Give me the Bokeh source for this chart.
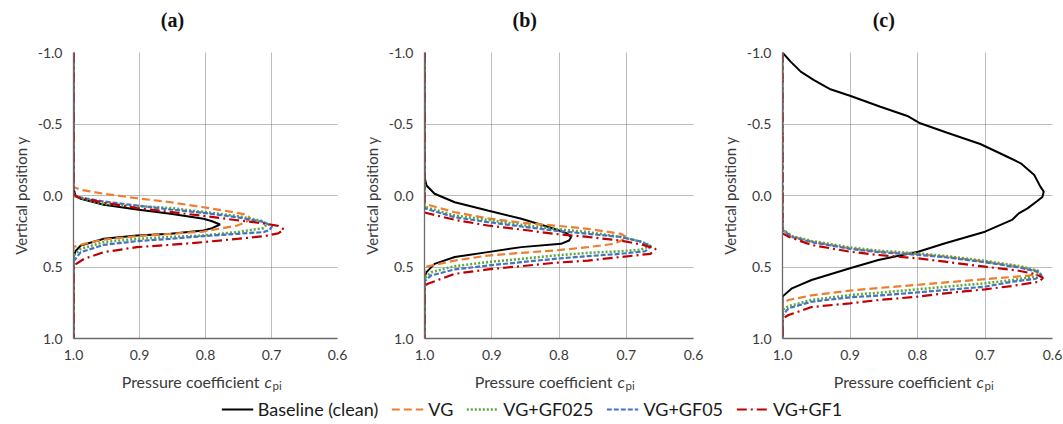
from bokeh.plotting import figure
from bokeh.layouts import row, column
from bokeh.models import Range1d, FixedTicker, PrintfTickFormatter, Label, Legend, LegendItem
from bokeh.embed import file_html
from bokeh.resources import INLINE

# ---------------- data (c_pi, y) ----------------
SERIES = ["Baseline (clean)", "VG", "VG+GF025", "VG+GF05", "VG+GF1"]
X_TICKS = [1.0, 0.9, 0.8, 0.7, 0.6]
Y_TICKS = [-1.0, -0.5, 0.0, 0.5, 1.0]
PANELS = ["(a)", "(b)", "(c)"]

# Panel (a)
A_BASE_C = [1.0, 1.0, 0.997, 0.989, 0.954, 0.904, 0.853, 0.803, 0.79, 0.778, 0.79, 0.803, 0.853, 0.904, 0.954, 0.989, 0.997, 1.0, 1.0]
A_BASE_Y = [-1.0, -0.05, 0.0, 0.023, 0.065, 0.098, 0.128, 0.163, 0.18, 0.203, 0.228, 0.245, 0.268, 0.28, 0.303, 0.35, 0.39, 0.43, 1.0]
A_VG_C = [1.0, 1.0, 0.989, 0.954, 0.904, 0.853, 0.803, 0.752, 0.737, 0.733, 0.738, 0.752, 0.803, 0.853, 0.904, 0.954, 0.984, 1.0, 1.0]
A_VG_Y = [-1.0, -0.06, -0.04, -0.012, 0.019, 0.047, 0.082, 0.121, 0.135, 0.155, 0.185, 0.21, 0.252, 0.268, 0.284, 0.308, 0.338, 0.36, 1.0]
A_GF025_C = [1.0, 1.0, 0.994, 0.954, 0.904, 0.853, 0.803, 0.752, 0.712, 0.708, 0.712, 0.752, 0.803, 0.853, 0.904, 0.954, 0.989, 1.0, 1.0]
A_GF025_Y = [-1.0, 0.0, 0.012, 0.058, 0.073, 0.088, 0.115, 0.143, 0.18, 0.205, 0.228, 0.256, 0.28, 0.29, 0.303, 0.326, 0.373, 0.42, 1.0]
A_GF05_C = [1.0, 1.0, 0.994, 0.954, 0.904, 0.853, 0.803, 0.752, 0.712, 0.699, 0.703, 0.712, 0.752, 0.803, 0.853, 0.904, 0.954, 0.989, 1.0, 1.0]
A_GF05_Y = [-1.0, -0.01, 0.01, 0.042, 0.07, 0.098, 0.121, 0.152, 0.185, 0.215, 0.24, 0.256, 0.268, 0.284, 0.303, 0.319, 0.345, 0.396, 0.46, 1.0]
A_GF1_C = [1.0, 1.0, 0.994, 0.954, 0.904, 0.853, 0.803, 0.752, 0.712, 0.69, 0.681, 0.69, 0.712, 0.752, 0.803, 0.853, 0.904, 0.954, 0.984, 1.0, 1.0]
A_GF1_Y = [-1.0, -0.01, 0.012, 0.05, 0.088, 0.115, 0.143, 0.173, 0.195, 0.212, 0.238, 0.265, 0.285, 0.303, 0.326, 0.345, 0.361, 0.396, 0.443, 0.49, 1.0]

# Panel (b)
B_BASE_C = [1.0, 1.0, 0.997, 0.985, 0.955, 0.906, 0.856, 0.807, 0.788, 0.782, 0.785, 0.797, 0.856, 0.906, 0.955, 0.985, 0.997, 1.0, 1.0]
B_BASE_Y = [-1.0, -0.13, -0.07, -0.012, 0.047, 0.105, 0.163, 0.233, 0.265, 0.29, 0.315, 0.338, 0.361, 0.396, 0.43, 0.478, 0.536, 0.57, 1.0]
B_VG_C = [1.0, 1.0, 0.955, 0.906, 0.856, 0.807, 0.757, 0.708, 0.70, 0.705, 0.718, 0.757, 0.807, 0.856, 0.906, 0.955, 0.99, 1.0, 1.0]
B_VG_Y = [-1.0, 0.058, 0.117, 0.159, 0.191, 0.21, 0.233, 0.268, 0.29, 0.31, 0.338, 0.361, 0.385, 0.401, 0.42, 0.455, 0.49, 0.5, 1.0]
B_GF025_C = [1.0, 1.0, 0.955, 0.906, 0.856, 0.807, 0.757, 0.708, 0.68, 0.664, 0.679, 0.708, 0.757, 0.807, 0.856, 0.906, 0.955, 0.99, 1.0, 1.0]
B_GF025_Y = [-1.0, 0.079, 0.14, 0.17, 0.205, 0.233, 0.256, 0.29, 0.32, 0.35, 0.38, 0.39, 0.401, 0.42, 0.443, 0.466, 0.494, 0.536, 0.58, 1.0]
B_GF05_C = [1.0, 1.0, 0.955, 0.906, 0.856, 0.807, 0.757, 0.708, 0.68, 0.663, 0.672, 0.708, 0.757, 0.807, 0.856, 0.906, 0.955, 0.99, 1.0, 1.0]
B_GF05_Y = [-1.0, 0.09, 0.152, 0.186, 0.217, 0.245, 0.268, 0.29, 0.32, 0.355, 0.39, 0.408, 0.424, 0.443, 0.466, 0.49, 0.517, 0.559, 0.6, 1.0]
B_GF1_C = [1.0, 1.0, 0.955, 0.906, 0.856, 0.807, 0.757, 0.708, 0.675, 0.656, 0.664, 0.708, 0.757, 0.807, 0.856, 0.906, 0.955, 0.995, 1.0, 1.0]
B_GF1_Y = [-1.0, 0.119, 0.17, 0.21, 0.238, 0.268, 0.29, 0.315, 0.345, 0.373, 0.408, 0.43, 0.455, 0.471, 0.494, 0.517, 0.548, 0.617, 0.63, 1.0]

# Panel (c)
C_BASE_C = [1.0, 0.988, 0.973, 0.954, 0.929, 0.899, 0.855, 0.815, 0.796, 0.756, 0.707, 0.667, 0.647, 0.627, 0.618, 0.613, 0.615, 0.623, 0.637, 0.65, 0.66, 0.70, 0.759, 0.799, 0.858, 0.9, 0.957, 0.986, 1.0, 1.0]
C_BASE_Y = [-1.0, -0.936, -0.866, -0.808, -0.743, -0.696, -0.621, -0.556, -0.505, -0.439, -0.36, -0.271, -0.225, -0.143, -0.062, -0.027, 0.01, 0.04, 0.09, 0.125, 0.171, 0.253, 0.334, 0.393, 0.451, 0.509, 0.591, 0.649, 0.707, 1.0]
C_VG_C = [1.0, 1.0, 0.986, 0.957, 0.9, 0.858, 0.799, 0.759, 0.70, 0.65, 0.625, 0.622, 0.635, 0.66, 0.70, 0.759, 0.799, 0.858, 0.9, 0.957, 0.991, 1.0, 1.0]
C_VG_Y = [-1.0, 0.241, 0.288, 0.323, 0.37, 0.393, 0.411, 0.428, 0.463, 0.498, 0.525, 0.545, 0.56, 0.57, 0.585, 0.608, 0.624, 0.647, 0.665, 0.698, 0.731, 0.75, 1.0]
C_GF025_C = [1.0, 1.0, 0.986, 0.957, 0.9, 0.858, 0.799, 0.759, 0.70, 0.65, 0.622, 0.618, 0.63, 0.66, 0.70, 0.759, 0.799, 0.858, 0.9, 0.957, 0.991, 1.0, 1.0]
C_GF025_Y = [-1.0, 0.235, 0.283, 0.318, 0.363, 0.386, 0.405, 0.423, 0.457, 0.493, 0.525, 0.548, 0.57, 0.591, 0.614, 0.638, 0.656, 0.68, 0.696, 0.731, 0.773, 0.8, 1.0]
C_GF05_C = [1.0, 1.0, 0.986, 0.957, 0.9, 0.858, 0.799, 0.759, 0.70, 0.65, 0.62, 0.616, 0.625, 0.66, 0.70, 0.759, 0.799, 0.858, 0.9, 0.957, 0.991, 1.0, 1.0]
C_GF05_Y = [-1.0, 0.241, 0.29, 0.326, 0.373, 0.396, 0.415, 0.432, 0.467, 0.503, 0.535, 0.56, 0.582, 0.603, 0.638, 0.661, 0.677, 0.70, 0.712, 0.743, 0.788, 0.84, 1.0]
C_GF1_C = [1.0, 1.0, 0.99, 0.957, 0.9, 0.858, 0.799, 0.759, 0.70, 0.65, 0.625, 0.614, 0.618, 0.62, 0.66, 0.70, 0.759, 0.799, 0.858, 0.9, 0.957, 0.991, 1.0, 1.0]
C_GF1_Y = [-1.0, 0.265, 0.29, 0.346, 0.393, 0.416, 0.44, 0.463, 0.498, 0.526, 0.55, 0.575, 0.595, 0.603, 0.633, 0.656, 0.684, 0.707, 0.731, 0.754, 0.78, 0.836, 0.86, 1.0]

PANEL_DATA = [
    [(A_BASE_C, A_BASE_Y), (A_VG_C, A_VG_Y), (A_GF025_C, A_GF025_Y), (A_GF05_C, A_GF05_Y), (A_GF1_C, A_GF1_Y)],
    [(B_BASE_C, B_BASE_Y), (B_VG_C, B_VG_Y), (B_GF025_C, B_GF025_Y), (B_GF05_C, B_GF05_Y), (B_GF1_C, B_GF1_Y)],
    [(C_BASE_C, C_BASE_Y), (C_VG_C, C_VG_Y), (C_GF025_C, C_GF025_Y), (C_GF05_C, C_GF05_Y), (C_GF1_C, C_GF1_Y)],
]

# ---------------- styling / geometry ----------------
COLORS = ["#000000", "#ED7D31", "#5FA83C", "#4472C4", "#C00000"]
DASHES = ["solid", "8 4", "2 2", "5 2", "10 4 2 4"]
WIDTHS = [2.0, 2.2, 2.6, 2.2, 2.2]
FONT = "Lato"
TXT = "#3a3a3a"

TOTAL_W = 1063
TITLE_H = 34
# (fig width, min_border_left, min_border_right)
GEOM = [(359, 73, 22), (358, 64, 24), (346, 65, 11)]
MB_TOP = 18
FRAME_H = 286
MB_BOTTOM = 28
FIG_H = MB_TOP + FRAME_H + MB_BOTTOM
BOTTOM_H = 54


def frame_box(i):
    x0 = sum(g[0] for g in GEOM[:i]) + GEOM[i][1]
    w = GEOM[i][0] - GEOM[i][1] - GEOM[i][2]
    return x0, w


def make_panel(i):
    w, mbl, mbr = GEOM[i]
    p = figure(width=w, height=FIG_H, x_range=Range1d(1.0, 0.6), y_range=Range1d(1.0, -1.0),
               toolbar_location=None, output_backend="svg",
               min_border_left=mbl, min_border_right=mbr, min_border_top=MB_TOP,
               min_border_bottom=MB_BOTTOM)
    p.outline_line_color = None

    p.xaxis.ticker = FixedTicker(ticks=X_TICKS)
    p.yaxis.ticker = FixedTicker(ticks=Y_TICKS)
    p.xaxis.formatter = PrintfTickFormatter(format="%.1f")
    p.yaxis.formatter = PrintfTickFormatter(format="%.1f")
    for ax in (p.xaxis, p.yaxis):
        ax.major_tick_line_color = None
        ax.minor_tick_line_color = None
        ax.major_tick_out = 0
        ax.major_tick_in = 0
        ax.axis_line_color = "#6b6b6b"
        ax.axis_line_width = 1.3
        ax.major_label_text_font = FONT
        ax.major_label_text_font_size = "14px"
        ax.major_label_text_color = TXT
    p.xaxis.major_label_standoff = 11
    p.yaxis.major_label_standoff = 11
    p.yaxis.axis_label = "Vertical position y"
    p.yaxis.axis_label_text_font = FONT
    p.yaxis.axis_label_text_font_size = "15px"
    p.yaxis.axis_label_text_font_style = "normal"
    p.yaxis.axis_label_text_color = TXT
    p.yaxis.axis_label_standoff = 5

    for g in (p.xgrid, p.ygrid):
        g.grid_line_color = "#7a7a7a"
        g.grid_line_dash = "1 1"
        g.grid_line_width = 1

    for k in range(len(SERIES)):
        cs, ys = PANEL_DATA[i][k]
        p.line(cs, ys, line_color=COLORS[k], line_dash=DASHES[k], line_width=WIDTHS[k])
    return p


def strip(h):
    s = figure(width=TOTAL_W, height=h, x_range=Range1d(0, TOTAL_W), y_range=Range1d(h, 0),
               toolbar_location=None, output_backend="svg", min_border=0,
               x_axis_location=None, y_axis_location=None)
    s.grid.visible = False
    s.outline_line_color = None
    return s


# ---- title strip ----
top = strip(TITLE_H)
for i, t in enumerate(PANELS):
    x0, w = frame_box(i)
    top.add_layout(Label(x=x0 + 0.375 * w, y=19, text=t, text_align="center", text_baseline="middle",
                         text_font="Liberation Serif", text_font_style="bold", text_font_size="20px",
                         text_color="#111111"))

# ---- panels ----
panels = [make_panel(i) for i in range(3)]

# ---- bottom strip: x-axis titles + legend ----
bot = strip(BOTTOM_H)
for i in range(3):
    x0, w = frame_box(i)
    cx = x0 + w / 2
    bot.add_layout(Label(x=cx + 54, y=15, text="Pressure coefficient", text_align="right",
                         text_baseline="alphabetic", text_font=FONT, text_font_size="16px", text_color=TXT))
    bot.add_layout(Label(x=cx + 59, y=15, text="c", text_align="left", text_baseline="alphabetic",
                         text_font=FONT, text_font_style="italic", text_font_size="16px", text_color=TXT))
    bot.add_layout(Label(x=cx + 67, y=19, text="pi", text_align="left", text_baseline="alphabetic",
                         text_font=FONT, text_font_size="11.5px", text_color=TXT))

items = []
for k, name in enumerate(SERIES):
    r = bot.line(x=[-20, -10], y=[-20, -20], line_color=COLORS[k], line_dash=DASHES[k], line_width=WIDTHS[k])
    items.append(LegendItem(label=name, renderers=[r]))
legend = Legend(items=items, orientation="horizontal", location="bottom_center",
                border_line_color=None, background_fill_alpha=0, padding=0, margin=0,
                glyph_width=32, glyph_height=20, label_height=20, label_standoff=5, spacing=13,
                label_text_font=FONT, label_text_font_size="18px", label_text_color="#1a1a1a")
bot.add_layout(legend)

layout = column(top, row(*panels), bot)
open("out.html", "w").write(file_html(layout, INLINE))
